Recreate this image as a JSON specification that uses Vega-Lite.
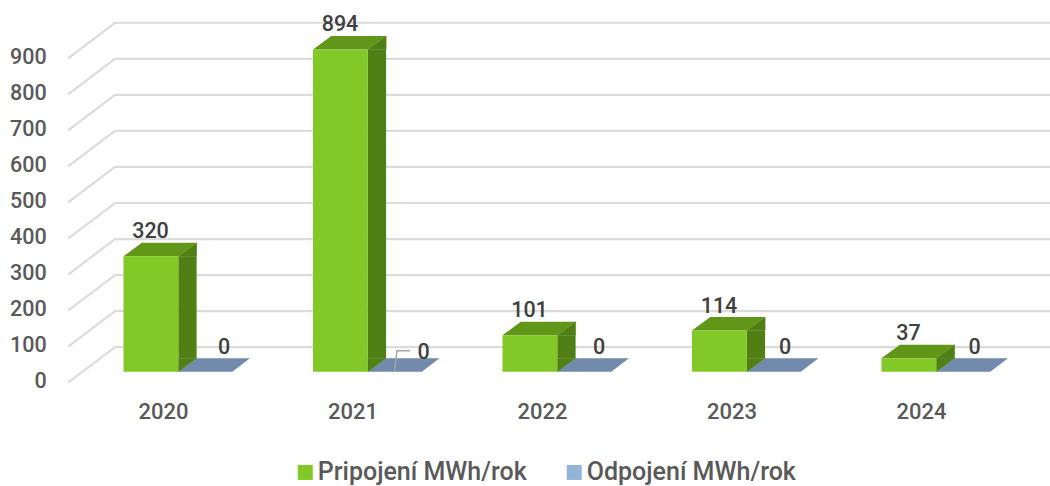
{
"$schema":"https://vega.github.io/schema/vega-lite/v6.json",
"width":947.5,"height":362,
"autosize":{"type":"none"},
"padding":{"left":69.25,"top":9.7,"right":33.25,"bottom":114.3},
"background":"white",
"config":{"view":{"stroke":null},"font":"Roboto"},
"datasets":{
"rows":[
{"year":"2020","series":"Pripojení MWh/rok","value":320},
{"year":"2021","series":"Pripojení MWh/rok","value":894},
{"year":"2022","series":"Pripojení MWh/rok","value":101},
{"year":"2023","series":"Pripojení MWh/rok","value":114},
{"year":"2024","series":"Pripojení MWh/rok","value":37},
{"year":"2020","series":"Odpojení MWh/rok","value":0},
{"year":"2021","series":"Odpojení MWh/rok","value":0},
{"year":"2022","series":"Odpojení MWh/rok","value":0},
{"year":"2023","series":"Odpojení MWh/rok","value":0},
{"year":"2024","series":"Odpojení MWh/rok","value":0}
],
"ticks":[{"tick":0},{"tick":100},{"tick":200},{"tick":300},{"tick":400},{"tick":500},{"tick":600},{"tick":700},{"tick":800},{"tick":900}]
},
"data":{"name":"rows"},
"encoding":{
"x":{"field":"year","type":"nominal","title":null,
"scale":{"paddingInner":0,"paddingOuter":0},
"axis":{"domain":false,"ticks":false,"labelAngle":0,"labelFontSize":22,"labelFontWeight":500,"labelColor":"#595959","labelPadding":30,"labelFont":"Roboto","labelOffset":-0.5}},
"y":{"field":"value","type":"quantitative","title":null,
"scale":{"domain":[0,1004.2],"nice":false,"zero":true},
"axis":{"domain":false,"ticks":false,"grid":false,"values":[0,100,200,300,400,500,600,700,800,900],"labelFontSize":21.5,"labelFontWeight":500,"labelColor":"#595959","labelPadding":23,"labelOffset":10,"labelFont":"Roboto"}}
},
"layer":[
{"data":{"name":"ticks"},
"mark":{"type":"point","shape":"M-96,11L-49,-24.5L886,-24.5","size":4,"filled":false,"stroke":"#DCDCDC","strokeWidth":2.2,"opacity":1},
"encoding":{"x":{"datum":"2020"},"y":{"field":"tick","type":"quantitative"}}},
{"transform":[{"filter":"datum.series=='Odpojení MWh/rok'"}],
"mark":{"type":"point","shape":"M14.3,0L68.3,0L86,-13.5L32.6,-13.5Z","size":4,"filled":true,"fill":"#728AAB","stroke":null,"opacity":1}},
{"transform":[{"filter":"datum.series=='Pripojení MWh/rok'"}],
"mark":{"type":"point","shape":"M14.3,0L32.6,-13.5L14.3,-13.5Z","size":4,"filled":true,"fill":"#507F16","stroke":"#507F16","strokeWidth":0.5,"opacity":1},
"encoding":{"y":{"datum":0}}},
{"transform":[{"filter":"datum.series=='Pripojení MWh/rok'"}],
"mark":{"type":"bar","width":18.3,"xOffset":23.45,"fill":"#507F16"},
"encoding":{"y2":{"datum":37.4}}},
{"transform":[{"filter":"datum.series=='Pripojení MWh/rok'"}],
"mark":{"type":"point","shape":"M14.3,0L32.6,-13.5L32.6,0Z","size":4,"filled":true,"fill":"#507F16","stroke":"#507F16","strokeWidth":0.5,"opacity":1}},
{"transform":[{"filter":"datum.series=='Pripojení MWh/rok'"}],
"mark":{"type":"point","shape":"M-40.5,0L14.3,0L32.6,-13.5L-22.2,-13.5Z","size":4,"filled":true,"fill":"#619619","stroke":null,"opacity":1}},
{"mark":{"type":"bar","width":54.8,"xOffset":-13.1},
"encoding":{"y2":{"datum":0},
"color":{"field":"series","type":"nominal","title":null,
"scale":{"domain":["Pripojení MWh/rok","Odpojení MWh/rok"],"range":["#82C826","#95B3D7"]},
"legend":{"orient":"none","direction":"horizontal","columns":2,"legendX":223.5,"legendY":450,"symbolType":"square","symbolSize":225,"symbolStrokeWidth":0,"labelFontSize":25,"labelFontWeight":500,"labelColor":"#595959","labelFont":"Roboto","labelOffset":0,"columnPadding":35,"labelLimit":400}}}},
{"transform":[{"filter":"datum.year=='2021'&&datum.series=='Odpojení MWh/rok'"}],
"mark":{"type":"point","shape":"M41,0L43.4,-21L56.8,-21","size":4,"filled":false,"stroke":"#A6A6A6","strokeWidth":1.5,"opacity":1}},
{"transform":[{"filter":"datum.series=='Pripojení MWh/rok'"}],
"mark":{"type":"text","fontSize":21.5,"fontWeight":500,"color":"#404040","dx":-13.5,"dy":-24},
"encoding":{"text":{"field":"value","type":"quantitative"}}},
{"transform":[{"filter":"datum.series=='Odpojení MWh/rok'&&datum.year=='2020'"}],
"mark":{"type":"text","fontSize":21.5,"fontWeight":500,"color":"#404040","dx":60,"dy":-24},
"encoding":{"text":{"field":"value","type":"quantitative"}}},
{"transform":[{"filter":"datum.series=='Odpojení MWh/rok'&&datum.year=='2021'"}],
"mark":{"type":"text","fontSize":21.5,"fontWeight":500,"color":"#404040","dx":70,"dy":-19},
"encoding":{"text":{"field":"value","type":"quantitative"}}},
{"transform":[{"filter":"datum.series=='Odpojení MWh/rok'&&datum.year=='2022'"}],
"mark":{"type":"text","fontSize":21.5,"fontWeight":500,"color":"#404040","dx":56,"dy":-24},
"encoding":{"text":{"field":"value","type":"quantitative"}}},
{"transform":[{"filter":"datum.series=='Odpojení MWh/rok'&&(datum.year=='2023'||datum.year=='2024')"}],
"mark":{"type":"text","fontSize":21.5,"fontWeight":500,"color":"#404040","dx":52.5,"dy":-24},
"encoding":{"text":{"field":"value","type":"quantitative"}}}
]
}
